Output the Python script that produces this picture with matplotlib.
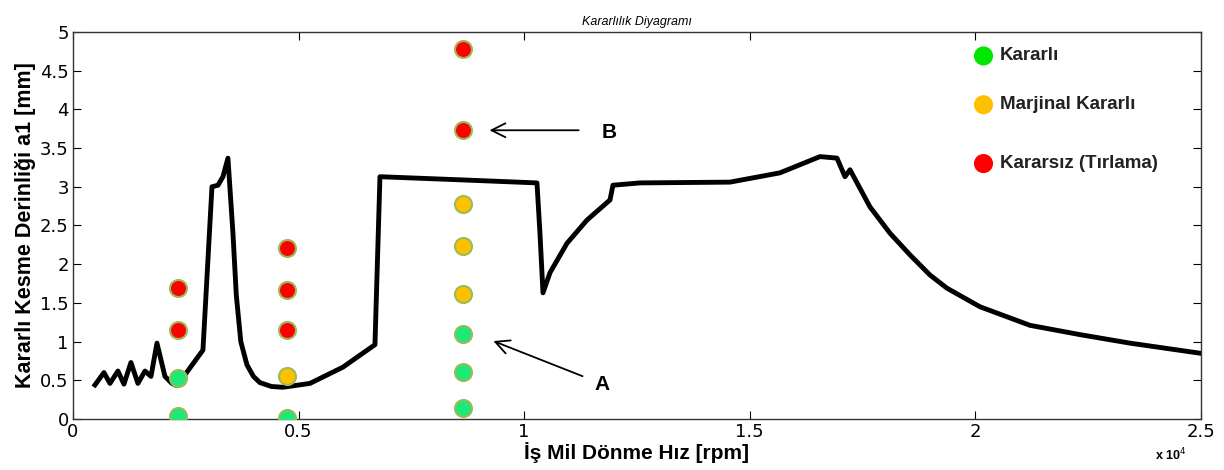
import matplotlib
matplotlib.use('Agg')
from matplotlib import pyplot as plt

# Kararlilik sinir egrisi (devir [rpm], derinlik [mm])
curve_rpm = [488, 687, 820, 997, 1130, 1285, 1440, 1596, 1729, 1862, 2039, 2194, 2305,
             2881, 3081, 3214, 3324, 3435, 3546, 3620, 3720, 3856, 4000, 4144, 4400, 4654,
             5253, 5984, 6693, 6804, 8577, 10284, 10350, 10417, 10572, 10949, 11392, 11902,
             11968, 12566, 14561, 15669, 16556, 16933, 17110, 17221, 17664, 18108, 18551,
             18994, 19370, 20102, 21210, 22318, 23426, 24978]
curve_depth = [0.44, 0.60, 0.46, 0.62, 0.45, 0.73, 0.46, 0.62, 0.55, 0.98, 0.55, 0.46, 0.43,
               0.89, 3.00, 3.02, 3.13, 3.37, 2.40, 1.60, 1.00, 0.70, 0.55, 0.47, 0.42, 0.41,
               0.46, 0.67, 0.96, 3.13, 3.09, 3.05, 2.40, 1.63, 1.89, 2.27, 2.57, 2.83,
               3.02, 3.05, 3.06, 3.18, 3.39, 3.37, 3.13, 3.22, 2.74, 2.40, 2.12,
               1.86, 1.69, 1.45, 1.21, 1.09, 0.98, 0.85]

# Deney noktalari
stable_rpm = [2327, 2327, 4743, 8643, 8643, 8643]
stable_depth = [0.53, 0.04, 0.01, 1.10, 0.61, 0.14]
marginal_rpm = [4743, 8643, 8643, 8643]
marginal_depth = [0.56, 2.78, 2.24, 1.61]
unstable_rpm = [2327, 2327, 4743, 4743, 4743, 8643, 8643]
unstable_depth = [1.69, 1.15, 2.21, 1.67, 1.15, 4.78, 3.73]

legend_labels = ['Kararlı', 'Marjinal Kararlı', 'Kararsız (Tırlama)']

fig = plt.figure(figsize=(12.24, 4.70), dpi=100)
ax = fig.add_axes([0.0596, 0.1085, 0.9216, 0.8235])

ax.plot(curve_rpm, curve_depth, color='black', linewidth=3.5, zorder=2)

pt = dict(s=150, edgecolors='#9bbb59', linewidths=1.5, zorder=3)
ax.scatter(stable_rpm, stable_depth, color='#1ee878', **pt)
ax.scatter(marginal_rpm, marginal_depth, color='#ffc000', **pt)
ax.scatter(unstable_rpm, unstable_depth, color='#ff0000', **pt)

ax.set_xlim(0, 25000)
ax.set_ylim(0, 5)
ax.set_xticks([0, 5000, 10000, 15000, 20000, 25000])
ax.set_xticklabels(['0', '0.5', '1', '1.5', '2', '2.5'])
ax.set_yticks([0, 0.5, 1, 1.5, 2, 2.5, 3, 3.5, 4, 4.5, 5])
ax.set_yticklabels(['0', '0.5', '1', '1.5', '2', '2.5', '3', '3.5', '4', '4.5', '5'])
ax.tick_params(direction='in', top=True, right=True, length=6, labelsize=13, pad=3)
for s in ax.spines.values():
    s.set_linewidth(1.0)
    s.set_color('#333333')

ax.set_title('Kararlılık Diyagramı', fontsize=9, style='italic', pad=5, family='Liberation Sans')
ax.set_xlabel('İş Mil Dönme Hız [rpm]', fontsize=15, fontweight='bold', family='Liberation Sans', labelpad=1)
ax.set_ylabel('Kararlı Kesme Derinliği a1 [mm]', fontsize=15.5, fontweight='bold', family='Liberation Sans', labelpad=3)
fig.text(0.944, 0.02, r'x 10$^4$', fontsize=9, fontweight='bold', family='Liberation Sans')

# Ozel lejant
leg_colors = ['#00e600', '#ffc000', '#ff0000']
leg_y = [4.69, 4.06, 3.3]
for c, yy, lab in zip(leg_colors, leg_y, legend_labels):
    ax.scatter([20180], [yy], s=190, color=c, edgecolors='none', zorder=3)
    ax.text(20550, yy, lab, fontsize=13.5, fontweight='bold', va='center',
            family='Liberation Sans', color='#222222')

# A ve B oklari
arrow = dict(arrowstyle='->', color='black', lw=1.3, mutation_scale=25)
ax.annotate('', xy=(9170, 3.73), xytext=(11270, 3.73), arrowprops=arrow)
ax.text(11720, 3.70, 'B', fontsize=15, fontweight='bold', va='center', family='Liberation Sans')
ax.annotate('', xy=(9260, 1.02), xytext=(11350, 0.54), arrowprops=arrow)
ax.text(11560, 0.45, 'A', fontsize=15, fontweight='bold', va='center', family='Liberation Sans')

plt.savefig('out.png', dpi=100)
